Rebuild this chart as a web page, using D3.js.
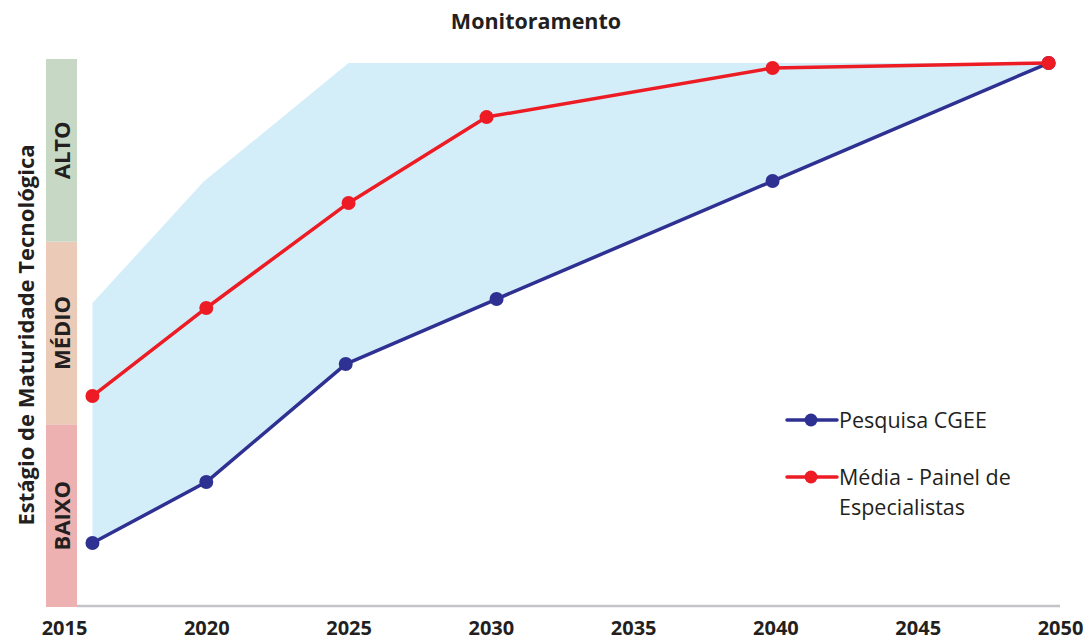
<!DOCTYPE html>
<html><head><meta charset="utf-8">
<script src="https://cdn.jsdelivr.net/npm/d3@7"></script>
<style>
body{margin:0;background:#fff;}
text{font-family:"Open Sans","Noto Sans",sans-serif;fill:#231f20;}
</style></head>
<body><svg id="c" width="1089" height="642"></svg>
<script>
const title = "Monitoramento";
const yAxisLabel = "Estágio de Maturidade Tecnológica";
const bands = ["BAIXO", "MÉDIO", "ALTO"];
const bandColors = ["#ecb1b0", "#ebcbb8", "#c7d8c5"];
const tickYears = [2015, 2020, 2025, 2030, 2035, 2040, 2045, 2050];
const pesquisaYears = [2016, 2020, 2024.9, 2030.2, 2039.9, 2049.6];
const pesquisaValues = [0.35, 0.684, 1.33, 1.686, 2.332, 2.978];
const mediaYears = [2016, 2020, 2025, 2029.85, 2039.9, 2049.6];
const mediaValues = [1.155, 1.637, 2.212, 2.682, 2.951, 2.978];
const upperYears = [2016, 2019.9, 2025, 2049.6];
const upperValues = [1.664, 2.328, 2.978, 2.978];
const seriesNames = ["Pesquisa CGEE", "Média - Painel de|Especialistas"];

const svg = d3.select("#c");
const x = d3.scaleLinear().domain([2015, 2050]).range([64, 1060]);
const y = d3.scaleLinear().domain([0, 3]).range([607, 59]);

const upper = upperYears.map((d,i)=>[x(d), y(upperValues[i])]);
const lower = pesquisaYears.map((d,i)=>[x(d), y(pesquisaValues[i])]).reverse();
svg.append("path").attr("d", d3.line()(upper.concat(lower)) + "Z").attr("fill", "#d4eef9");

const bandX = 46, bandW = 31;
bands.forEach((b,i)=>{
  svg.append("rect").attr("x", bandX).attr("width", bandW)
    .attr("y", y(i+1)).attr("height", y(i)-y(i+1)).attr("fill", bandColors[i]);
  const cy = (y(i)+y(i+1))/2;
  svg.append("text").attr("transform", `translate(${bandX+bandW/2+8},${cy}) rotate(-90)`)
    .attr("text-anchor","middle").attr("font-size", 22).attr("font-weight", 700).text(b);
});

svg.append("line").attr("x1", bandX+bandW).attr("x2", x(2050)).attr("y1", 606).attr("y2", 606)
  .attr("stroke", "#c4c4c8").attr("stroke-width", 2.5);

const ax = svg.append("g").attr("transform", "translate(0,606)")
  .call(d3.axisBottom(x).tickValues(tickYears).tickFormat(d3.format("d")).tickSize(0).tickPadding(0));
ax.select(".domain").remove();
ax.selectAll("text").attr("font-size", 20).attr("font-weight", 700).attr("fill", "#231f20")
  .attr("dy", null).attr("y", 29)
  .style("font-family", '"Open Sans","Noto Sans",sans-serif');

svg.append("text").attr("x", 536).attr("y", 29).attr("text-anchor","middle")
  .attr("font-size", 21.5).attr("font-weight", 700).text(title);
svg.append("text").attr("transform", "translate(34,335) rotate(-90)").attr("text-anchor","middle")
  .attr("font-size", 22).attr("font-weight", 700).text(yAxisLabel);

const series = [
  {years: pesquisaYears, values: pesquisaValues, color: "#2e3192"},
  {years: mediaYears, values: mediaValues, color: "#ed1c24"}
];
const line = d3.line();
series.forEach(s=>{
  const pts = s.years.map((d,i)=>[x(d), y(s.values[i])]);
  svg.append("path").attr("d", line(pts)).attr("fill","none").attr("stroke", s.color)
    .attr("stroke-width", 3.5).attr("stroke-linejoin","round");
  svg.selectAll(null).data(pts).enter().append("circle")
    .attr("cx", d=>d[0]).attr("cy", d=>d[1]).attr("r", 7).attr("fill", s.color);
});

const legY = [420, 477];
series.forEach((s,i)=>{
  const g = svg.append("g").attr("transform", `translate(787,${legY[i]})`);
  g.append("line").attr("x1",0).attr("x2",50).attr("stroke", s.color).attr("stroke-width",3.5).attr("stroke-linecap","round");
  g.append("circle").attr("cx",24).attr("r",6.5).attr("fill", s.color);
  const lines = seriesNames[i].split("|");
  lines.forEach((t,j)=>{
    g.append("text").attr("x", 52).attr("y", 8 + j*30).attr("font-size", 21.5).text(t);
  });
});
</script></body></html>
